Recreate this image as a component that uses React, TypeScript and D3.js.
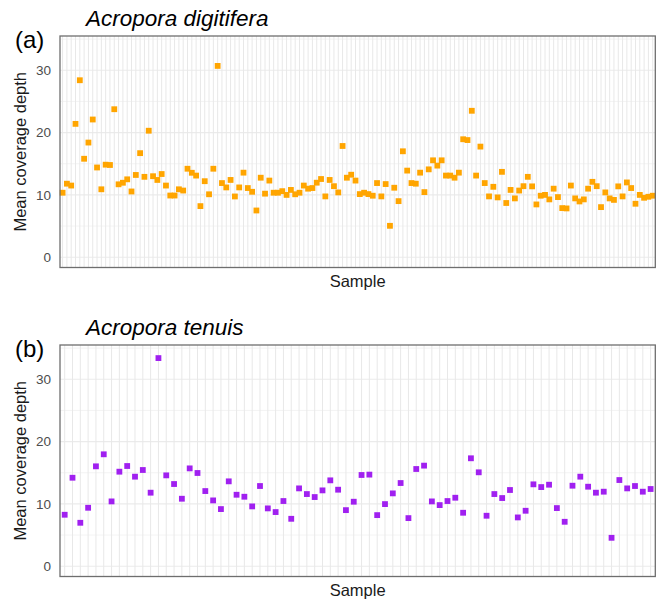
import React from "react";
import * as d3 from "d3";

const digitiferaDepth: number[] = [
  10.35, 11.8, 11.5, 21.4, 28.4, 15.8, 18.4, 22.1, 14.4, 10.9,
  14.85, 14.8, 23.75, 11.7, 11.95, 12.5, 10.55, 13.2, 16.7, 12.9,
  20.3, 13.0, 12.4, 13.35, 11.5, 9.9, 9.9, 10.9, 10.7, 14.2,
  13.55, 13.1, 8.2, 12.2, 10.1, 14.2, 30.7, 11.9, 11.2, 12.4,
  9.75, 11.2, 13.57, 11.1, 10.5, 7.5, 12.76, 10.2, 12.3, 10.35,
  10.35, 10.6, 10.0, 10.8, 10.1, 10.35, 11.5, 11.0, 11.1, 11.96,
  12.55, 9.76, 12.4, 11.4, 10.4, 17.85, 12.76, 13.24, 12.3, 10.13,
  10.35, 10.13, 9.87, 11.9, 9.76, 11.74, 5.04, 11.15, 9.0, 17.0,
  13.9, 11.9, 11.8, 13.57, 10.45, 14.1, 15.55, 14.7, 15.55, 13.1,
  13.1, 12.76, 13.57, 18.93, 18.8, 23.5, 13.1, 17.75, 11.9, 9.76,
  11.3, 9.6, 13.7, 8.7, 10.8, 9.44, 10.7, 11.4, 12.9, 11.37,
  8.47, 9.87, 10.0, 9.28, 11.0, 9.65, 7.88, 7.83, 11.5, 9.44,
  8.95, 9.28, 11.0, 12.1, 11.4, 8.04, 10.4, 9.44, 9.2, 11.37,
  9.76, 12.0, 11.1, 8.58, 10.0, 9.54, 9.7, 9.87,
];

const tenuisDepth: number[] = [
  8.26, 14.2, 6.97, 9.38, 16.03, 17.96, 10.4, 15.17, 16.08, 14.37,
  15.44, 11.8, 33.4, 14.58, 13.19, 10.83, 15.7, 14.96, 12.06, 10.56,
  9.17, 13.62, 11.47, 11.15, 9.6, 12.87, 9.28, 8.69, 10.46, 7.61,
  12.49, 11.58, 11.1, 12.17, 13.78, 12.28, 9.0, 10.35, 14.64, 14.7,
  8.2, 9.97, 11.69, 13.35, 7.72, 15.6, 16.14, 10.4, 9.81, 10.46,
  10.99, 8.58, 17.32, 15.07, 8.1, 11.58, 10.94, 12.23, 7.83, 8.9,
  13.14, 12.7, 13.08, 9.33, 7.13, 12.92, 14.37, 12.76, 11.8, 11.96,
  4.56, 13.83, 12.49, 12.87, 11.96, 12.39,
];

const speciesNames = ["Acropora digitifera", "Acropora tenuis"];
const panelTags = ["(a)", "(b)"];
const seriesColors = ["#FFA500", "#A020F0"];
const yTicks = [0, 10, 20, 30];
const yMinor = [5, 15, 25, 35];
const yLimits: [number, number] = [-1.65, 35.5];
const xTitle = "Sample";
const yTitle = "Mean coverage depth";

const FONT = "'Liberation Sans', Arial, Helvetica, sans-serif";

const W = 660;
const H = 600;
const panelLeft = 60;
const panelRight = 655.3;
const panelTops = [36, 345];
const panelHeight = 231.5;

function Panel({ idx, values }: { idx: number; values: number[] }) {
  const top = panelTops[idx];
  const bottom = top + panelHeight;
  const samples = values.map((_, i) => `S${idx + 1}_${i + 1}`);
  const n = samples.length;
  const unit = (panelRight - panelLeft) / (n - 1 + 1.2);
  const x = d3
    .scalePoint<string>()
    .domain(samples)
    .range([panelLeft + 0.6 * unit, panelRight - 0.6 * unit]);
  const y = d3.scaleLinear().domain(yLimits).range([bottom, top]);
  const sq = 5.8;
  const cy = (top + bottom) / 2;
  return (
    <g>
      <rect x={panelLeft} y={top} width={panelRight - panelLeft} height={panelHeight} fill="#ffffff" />
      {yMinor.map((t) => (
        <line key={"mn" + t} x1={panelLeft} x2={panelRight} y1={y(t)} y2={y(t)} stroke="#ebebeb" strokeWidth={0.6} />
      ))}
      {yTicks.map((t) => (
        <line key={"mj" + t} x1={panelLeft} x2={panelRight} y1={y(t)} y2={y(t)} stroke="#ebebeb" strokeWidth={1.1} />
      ))}
      {samples.map((s) => (
        <line key={"v" + s} x1={x(s)} x2={x(s)} y1={top} y2={bottom} stroke="#e8e8e8" strokeWidth={1} />
      ))}
      {values.map((v, i) => (
        <rect
          key={"p" + i}
          x={(x(samples[i]) as number) - sq / 2}
          y={y(v) - sq / 2}
          width={sq}
          height={sq}
          fill={seriesColors[idx]}
        />
      ))}
      <rect
        x={panelLeft}
        y={top}
        width={panelRight - panelLeft}
        height={panelHeight}
        fill="none"
        stroke="#6e6e6e"
        strokeWidth={1.3}
      />
      {yTicks.map((t) => (
        <text
          key={"tl" + t}
          x={51}
          y={y(t)}
          dy="0.36em"
          textAnchor="end"
          fontSize={13.5}
          fill="#4d4d4d"
          fontFamily={FONT}
        >
          {t}
        </text>
      ))}
      <text
        transform={`translate(26,${cy}) rotate(-90)`}
        textAnchor="middle"
        fontSize={16.5}
        fill="#1a1a1a"
        fontFamily={FONT}
      >
        {yTitle}
      </text>
      <text
        x={(panelLeft + panelRight) / 2}
        y={bottom + 19}
        textAnchor="middle"
        fontSize={16.5}
        fill="#1a1a1a"
        fontFamily={FONT}
      >
        {xTitle}
      </text>
      <text x={86} y={top - 10} fontSize={22.5} fontStyle="italic" fill="#000" fontFamily={FONT}>
        {speciesNames[idx]}
      </text>
      <text x={15} y={top + 12} fontSize={24} fill="#000" fontFamily={FONT}>
        {panelTags[idx]}
      </text>
    </g>
  );
}

export default function App() {
  return (
    <svg
      width={W}
      height={H}
      viewBox={`0 0 ${W} ${H}`}
      style={{ position: "absolute", left: 0, top: 0, background: "#fff" }}
    >
      <rect x={0} y={0} width={W} height={H} fill="#fff" />
      <Panel idx={0} values={digitiferaDepth} />
      <Panel idx={1} values={tenuisDepth} />
    </svg>
  );
}
